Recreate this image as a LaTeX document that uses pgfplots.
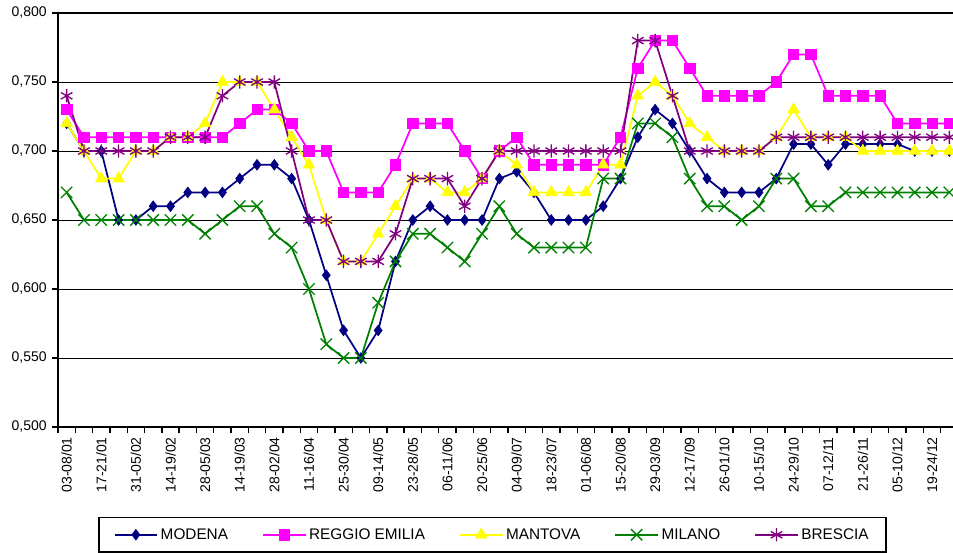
\documentclass[border=0pt]{standalone}
\usepackage{fontspec}
\setmainfont{Liberation Sans}
\usepackage{pgfplots}
\usepackage{pgfplotstable}
\pgfplotsset{compat=1.18}
\definecolor{cmod}{RGB}{0,0,128}
\definecolor{creg}{RGB}{255,0,255}
\definecolor{cman}{RGB}{255,255,0}
\definecolor{cmil}{RGB}{0,128,0}
\definecolor{cbre}{RGB}{128,0,128}
\pgfplotstableread{
i mod reg man mil bre
0 0.720 0.730 0.720 0.670 0.740
1 0.700 0.710 0.700 0.650 0.700
2 0.700 0.710 0.680 0.650 0.700
3 0.650 0.710 0.680 0.650 0.700
4 0.650 0.710 0.700 0.650 0.700
5 0.660 0.710 0.700 0.650 0.700
6 0.660 0.710 0.710 0.650 0.710
7 0.670 0.710 0.710 0.650 0.710
8 0.670 0.710 0.720 0.640 0.710
9 0.670 0.710 0.750 0.650 0.740
10 0.680 0.720 0.750 0.660 0.750
11 0.690 0.730 0.750 0.660 0.750
12 0.690 0.730 0.730 0.640 0.750
13 0.680 0.720 0.710 0.630 0.700
14 0.650 0.700 0.690 0.600 0.650
15 0.610 0.700 0.650 0.560 0.650
16 0.570 0.670 0.620 0.550 0.620
17 0.550 0.670 0.620 0.550 0.620
18 0.570 0.670 0.640 0.590 0.620
19 0.620 0.690 0.660 0.620 0.640
20 0.650 0.720 0.680 0.640 0.680
21 0.660 0.720 0.680 0.640 0.680
22 0.650 0.720 0.670 0.630 0.680
23 0.650 0.700 0.670 0.620 0.660
24 0.650 0.680 0.680 0.640 0.680
25 0.680 0.700 0.700 0.660 0.700
26 0.685 0.710 0.690 0.640 0.700
27 0.670 0.690 0.670 0.630 0.700
28 0.650 0.690 0.670 0.630 0.700
29 0.650 0.690 0.670 0.630 0.700
30 0.650 0.690 0.670 0.630 0.700
31 0.660 0.690 0.690 0.680 0.700
32 0.680 0.710 0.690 0.680 0.700
33 0.710 0.760 0.740 0.720 0.780
34 0.730 0.780 0.750 0.720 0.780
35 0.720 0.780 0.740 0.710 0.740
36 0.700 0.760 0.720 0.680 0.700
37 0.680 0.740 0.710 0.660 0.700
38 0.670 0.740 0.700 0.660 0.700
39 0.670 0.740 0.700 0.650 0.700
40 0.670 0.740 0.700 0.660 0.700
41 0.680 0.750 0.710 0.680 0.710
42 0.705 0.770 0.730 0.680 0.710
43 0.705 0.770 0.710 0.660 0.710
44 0.690 0.740 0.710 0.660 0.710
45 0.705 0.740 0.710 0.670 0.710
46 0.705 0.740 0.700 0.670 0.710
47 0.705 0.740 0.700 0.670 0.710
48 0.705 0.720 0.700 0.670 0.710
49 0.700 0.720 0.700 0.670 0.710
50 0.700 0.720 0.700 0.670 0.710
51 0.700 0.720 0.700 0.670 0.710
}\datatable
\begin{document}
\begin{tikzpicture}
\begin{axis}[
  name=ax,
  at={(0,0)}, anchor=south west,
  scale only axis,
  width=675pt, height=310.5pt,
  xmin=-0.5, xmax=51.5,
  ymin=0.5, ymax=0.8,
  ytick={0.5,0.55,...,0.81},
  axis lines*=left,
  axis line style={line width=1.2pt, black},
  tick align=outside,
  major tick length=4.5pt,
  minor tick length=4.5pt,
  xtick={0,2,...,50},
  xticklabels={03-08/01,17-21/01,31-05/02,14-19/02,28-05/03,14-19/03,28-02/04,11-16/04,25-30/04,09-14/05,23-28/05,06-11/06,20-25/06,04-09/07,18-23/07,01-06/08,15-20/08,29-03/09,12-17/09,26-01/10,10-15/10,24-29/10,07-12/11,21-26/11,05-10/12,19-24/12},
  minor xtick={-0.5,0.5,...,51.6},
  x tick style={draw=none},
  minor x tick style={draw=black, line width=1pt},
  y tick style={black, line width=1pt},
  tick label style={font=\fontsize{10.5pt}{12pt}\selectfont},
  xticklabel shift=3pt,
  xticklabel style={rotate=90, anchor=east, inner sep=0pt},
  yticklabel style={inner sep=0pt, xshift=-3.75pt},
  yticklabel={\pgfmathprintnumber[fixed,fixed zerofill,precision=3,use comma]{\tick}},
  /pgf/number format/assume math mode=true,
  ymajorgrids,
  major grid style={black, line width=0.6pt},
  every axis plot/.append style={line width=1.3pt},
  legend columns=5,
  legend style={at={(0.4828,-0.2174)}, anchor=north, draw=black, line width=1.1pt,
    font=\fontsize{11.5pt}{13pt}\selectfont, inner xsep=11pt, inner ysep=6pt,
    /tikz/every even column/.append style={column sep=23.5pt}},
  legend cell align=left,
  legend image code/.code={\draw[mark repeat=2,mark phase=2,#1] plot coordinates {(0pt,0pt) (16pt,0pt) (32pt,0pt)};},
]
\addplot[color=cmod, mark=diamond*, mark size=4pt, mark options={solid, fill=cmod, line width=0.5pt}] table[x=i,y=mod]{\datatable};
\addlegendentry{MODENA}
\addplot[color=creg, mark=square*, mark size=3.9pt, mark options={solid, fill=creg, line width=0.5pt}] table[x=i,y=reg]{\datatable};
\addlegendentry{REGGIO EMILIA}
\addplot[color=cman, mark=triangle*, mark size=5pt, mark options={solid, fill=cman, line width=0.5pt}] table[x=i,y=man]{\datatable};
\addlegendentry{MANTOVA}
\addplot[color=cmil, mark=x, mark size=6pt, mark options={solid, line width=1pt}] table[x=i,y=mil]{\datatable};
\addlegendentry{MILANO}
\addplot[color=cbre, mark=asterisk, mark size=5pt, mark options={solid, line width=1pt}] table[x=i,y=bre]{\datatable};
\addlegendentry{BRESCIA}
\draw[black, line width=1.2pt] (rel axis cs:0,1) -- (rel axis cs:1,1);
\end{axis}
\pgfresetboundingbox
\path[use as bounding box] (-43.5pt,-94.5pt) rectangle (671.25pt,320.25pt);
\end{tikzpicture}
\end{document}
